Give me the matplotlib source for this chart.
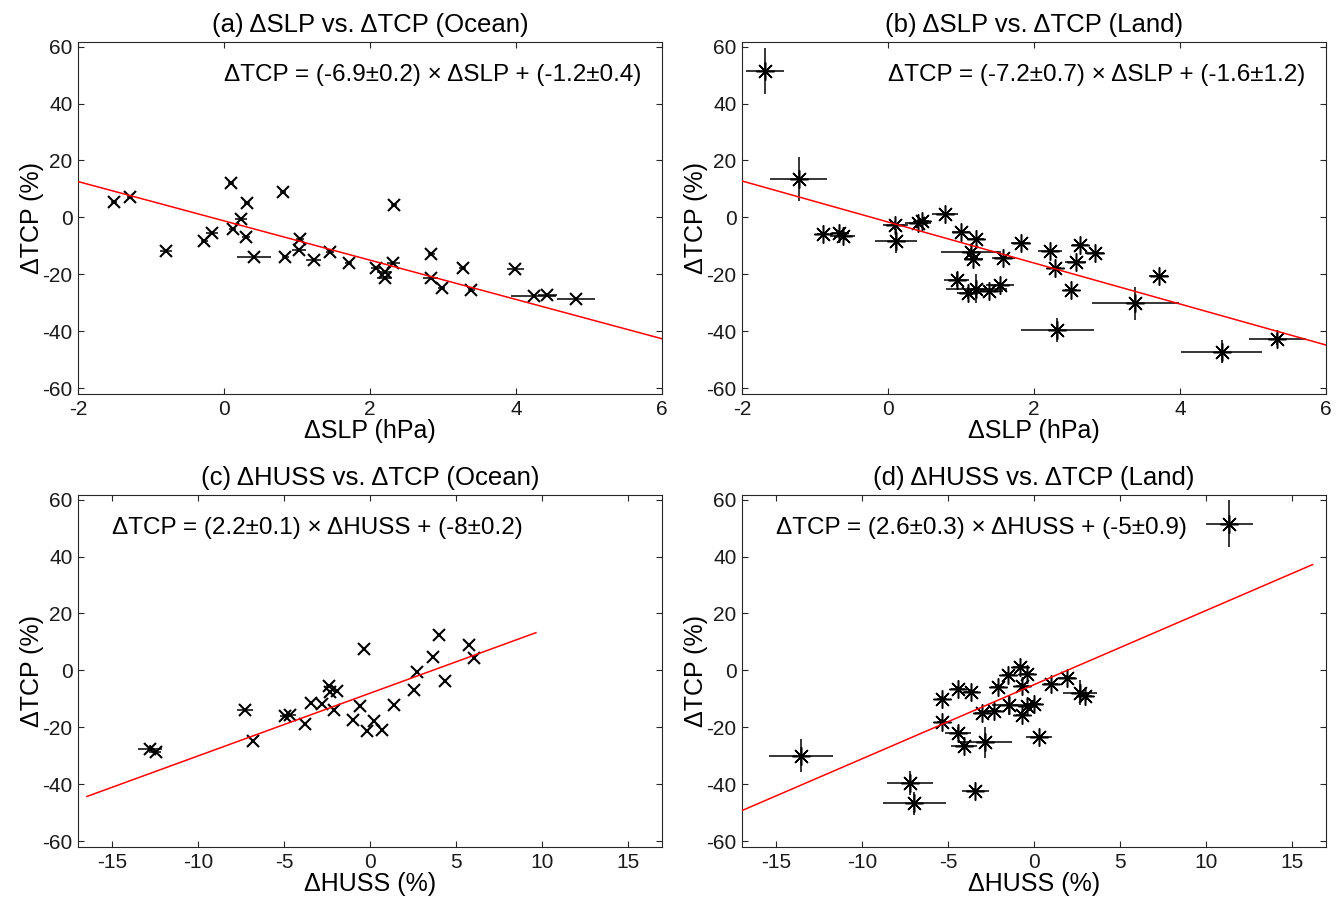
import matplotlib.pyplot as plt
import numpy as np

plt.rcParams['font.family'] = ['Liberation Sans', 'DejaVu Sans']
plt.rcParams['axes.unicode_minus'] = False

# (a) dSLP vs dTCP, ocean
slp_ocean = [-1.51, -1.29, -0.79, -0.27, -0.16, 0.10, 0.12, 0.23, 0.31, 0.30, 0.41,
             0.81, 0.84, 1.04, 1.03, 1.23, 1.45, 1.71, 2.08, 2.20, 2.20, 2.33, 2.32,
             2.84, 2.83, 2.98, 3.27, 3.39, 3.99, 4.24, 4.43, 4.82]
tcp_ocean_a = [5.3, 7.3, -11.8, -8.2, -5.6, 12.2, -3.9, -0.6, 4.9, -6.8, -13.9,
               8.8, -13.9, -7.4, -11.5, -14.8, -12.1, -16.0, -17.6, -19.2, -21.2, 4.4, -16.0,
               -12.7, -21.2, -24.7, -17.6, -25.4, -18.0, -27.6, -27.4, -28.6]
slp_ocean_err = [0.04, 0.04, 0.08, 0.05, 0.08, 0.04, 0.05, 0.08, 0.04, 0.05, 0.23,
                 0.04, 0.05, 0.05, 0.1, 0.1, 0.05, 0.05, 0.06, 0.1, 0.1, 0.04, 0.09,
                 0.05, 0.1, 0.05, 0.05, 0.05, 0.12, 0.31, 0.13, 0.26]

# (b) dSLP vs dTCP, land
slp_land = [-1.69, -1.22, -0.89, -0.67, -0.62, 0.10, 0.11, 0.41, 0.46, 0.78, 1.00,
            1.20, 1.14, 1.17, 1.58, 1.82, 2.22, 2.29, 2.63, 2.57, 2.83, 2.51, 3.71,
            0.94, 1.10, 1.21, 1.38, 1.53, 3.39, 2.32, 4.57, 5.33]
tcp_land_b = [51.4, 13.5, -5.9, -5.6, -6.6, -2.8, -8.2, -1.9, -1.3, 1.1, -5.1,
              -7.4, -12.2, -14.5, -14.1, -9.0, -11.7, -17.7, -9.8, -15.7, -12.6, -25.4, -20.4,
              -21.9, -26.5, -25.0, -25.7, -23.6, -30.1, -39.4, -47.1, -42.7]
slp_land_err = [0.26, 0.39, 0.08, 0.1, 0.17, 0.17, 0.29, 0.18, 0.1, 0.18, 0.13,
                0.11, 0.41, 0.13, 0.16, 0.13, 0.17, 0.08, 0.11, 0.14, 0.13, 0.08, 0.13,
                0.17, 0.15, 0.42, 0.2, 0.19, 0.6, 0.5, 0.55, 0.39]
tcp_land_err_b = [8.2, 7.8, 0.5, 0.5, 0.5, 1.5, 4.3, 0.5, 0.5, 0.5, 0.5,
                  0.5, 1.5, 1.0, 0.5, 0.5, 0.5, 0.5, 0.5, 0.5, 0.5, 0.5, 0.5,
                  2.6, 2.0, 5.2, 0.5, 1.0, 5.8, 4.2, 4.1, 2.0]

# (c) dHUSS vs dTCP, ocean
huss_ocean = [-12.79, -12.45, -7.27, -6.82, -4.92, -4.63, -3.76, -3.42, -2.79, -2.39,
              -2.35, -1.90, -2.12, -1.01, -0.56, -0.34, -0.16, 0.22, 0.67, 1.41,
              2.57, 2.75, 3.69, 4.02, 4.36, 5.77, 6.04]
tcp_ocean_c = [-27.6, -28.5, -13.8, -24.7, -16.1, -15.8, -18.8, -11.4, -11.8, -5.5,
               -7.5, -7.3, -13.8, -17.3, -12.6, 7.4, -21.2, -17.9, -20.8, -12.2,
               -6.7, -0.5, 4.8, 12.4, -3.8, 8.8, 4.5]
huss_ocean_err = [0.69, 0.3, 0.45, 0.1, 0.3, 0.3, 0.1, 0.1, 0.1, 0.2,
                  0.1, 0.1, 0.1, 0.1, 0.1, 0.1, 0.1, 0.1, 0.1, 0.1,
                  0.1, 0.1, 0.1, 0.1, 0.1, 0.1, 0.1]
tcp_ocean_err_c = [1.5, 0.5, 0.5, 0, 0.5, 0.5, 0, 0, 0, 0.5,
                   0, 0, 0, 0, 0, 0, 0, 0, 0, 0,
                   0, 0, 0, 0, 0, 0, 0]

# (d) dHUSS vs dTCP, land
huss_land = [11.38, -13.54, -7.20, -6.96, -3.41, -5.35, -5.35, -4.42, -3.68, -4.42,
             -4.08, -2.83, -3.01, -2.34, -2.12, -1.49, -1.45, -0.83, -0.38, -0.67,
             -0.67, -0.38, 0.0, 0.29, 1.00, 1.90, 2.68, 2.97]
tcp_land_d = [51.5, -29.9, -39.6, -46.7, -42.4, -9.9, -18.1, -6.4, -7.5, -22.0,
              -26.4, -25.2, -14.9, -14.1, -5.8, -1.6, -12.2, 1.2, -1.2, -5.5,
              -15.8, -12.6, -11.8, -23.5, -4.9, -2.6, -7.9, -9.1]
huss_land_err = [1.37, 1.86, 1.34, 1.86, 0.81, 0.3, 0.3, 0.4, 0.4, 0.78,
                 0.75, 1.56, 0.4, 0.4, 0.4, 0.4, 1.0, 0.4, 0.4, 0.4,
                 0.4, 0.4, 0.4, 0.75, 0.4, 0.5, 0.98, 0.4]
tcp_land_err_d = [8.2, 5.9, 4.3, 4.1, 1.0, 1.0, 1.0, 1.0, 1.0, 2.0,
                  1.5, 5.5, 1.0, 1.0, 1.0, 1.0, 3.5, 1.0, 1.0, 1.0,
                  1.0, 1.0, 1.0, 1.0, 1.0, 1.0, 4.4, 1.0]

# fitted lines: slope, intercept, x range
fit_slope = [-6.9, -7.2, 2.2, 2.6]
fit_icpt = [-1.2, -1.6, -8.0, -5.0]
fit_xrange = [[-2, 6], [-2, 6], [-16.48, 9.66], [-17, 16.22]]

titles = ['(a) \u0394SLP vs. \u0394TCP (Ocean)', '(b) \u0394SLP vs. \u0394TCP (Land)',
          '(c) \u0394HUSS vs. \u0394TCP (Ocean)', '(d) \u0394HUSS vs. \u0394TCP (Land)']
eq_texts = ['\u0394TCP = (-6.9\u00b10.2) \u00d7 \u0394SLP + (-1.2\u00b10.4)',
            '\u0394TCP = (-7.2\u00b10.7) \u00d7 \u0394SLP + (-1.6\u00b11.2)',
            '\u0394TCP = (2.2\u00b10.1) \u00d7 \u0394HUSS + (-8\u00b10.2)',
            '\u0394TCP = (2.6\u00b10.3) \u00d7 \u0394HUSS + (-5\u00b10.9)']
xlabels = ['\u0394SLP (hPa)', '\u0394SLP (hPa)', '\u0394HUSS (%)', '\u0394HUSS (%)']
ylabel = '\u0394TCP (%)'
slp_ticks = [-2, 0, 2, 4, 6]
huss_ticks = [-15, -10, -5, 0, 5, 10, 15]
tcp_ticks = [-60, -40, -20, 0, 20, 40, 60]

SPINE = '#262626'


def plot_panel(ax, k, x, y, xerr, yerr, marker, ms, mew, xlim, xticks, eq_x):
    ax.errorbar(x, y, xerr=xerr, yerr=yerr, fmt='none', ecolor='k',
                elinewidth=1.1, capsize=0, zorder=2)
    ax.plot(x, y, ls='none', marker=marker, ms=ms, mew=mew, mec='k', mfc='none', zorder=3)
    fx = np.array(fit_xrange[k])
    ax.plot(fx, fit_slope[k] * fx + fit_icpt[k], c='r', lw=1.1, zorder=4)

    ax.text(eq_x, 50, eq_texts[k], fontsize=17.5, va='center', ha='left', color='k')
    ax.set_xlim(xlim)
    ax.set_ylim(-62, 61.6)
    ax.set_xticks(xticks)
    ax.set_yticks(tcp_ticks)
    ax.set_title(titles[k], fontsize=18.5, pad=7)
    ax.set_xlabel(xlabels[k], fontsize=18, labelpad=0)
    ax.set_ylabel(ylabel, fontsize=18, labelpad=-1)
    ax.tick_params(direction='in', length=4, width=0.8, top=True, right=True,
                   labelsize=15, colors=SPINE, labelcolor='#1a1a1a', pad=4)
    for sp in ax.spines.values():
        sp.set_color(SPINE)
        sp.set_linewidth(0.8)


fig = plt.figure(figsize=(13.38, 9.05), dpi=100)
W, H = 1338, 905
lefts = [78, 742]
tops = [42, 495]
aw, ah = 584, 352
axes = []
for r in range(2):
    for c in range(2):
        axes.append(fig.add_axes([lefts[c] / W, 1 - (tops[r] + ah) / H, aw / W, ah / H]))

plot_panel(axes[0], 0, slp_ocean, tcp_ocean_a, slp_ocean_err, None, 'x', 8.5, 1.5,
           (-2, 6), slp_ticks, 0.0)
plot_panel(axes[1], 1, slp_land, tcp_land_b, slp_land_err, tcp_land_err_b, (8, 2, 0), 13, 1.1,
           (-2, 6), slp_ticks, 0.0)
plot_panel(axes[2], 2, huss_ocean, tcp_ocean_c, huss_ocean_err, tcp_ocean_err_c, 'x', 8.5, 1.5,
           (-17, 17), huss_ticks, -15.0)
plot_panel(axes[3], 3, huss_land, tcp_land_d, huss_land_err, tcp_land_err_d, (8, 2, 0), 13, 1.1,
           (-17, 17), huss_ticks, -15.0)

plt.savefig('out.png', dpi=100)
